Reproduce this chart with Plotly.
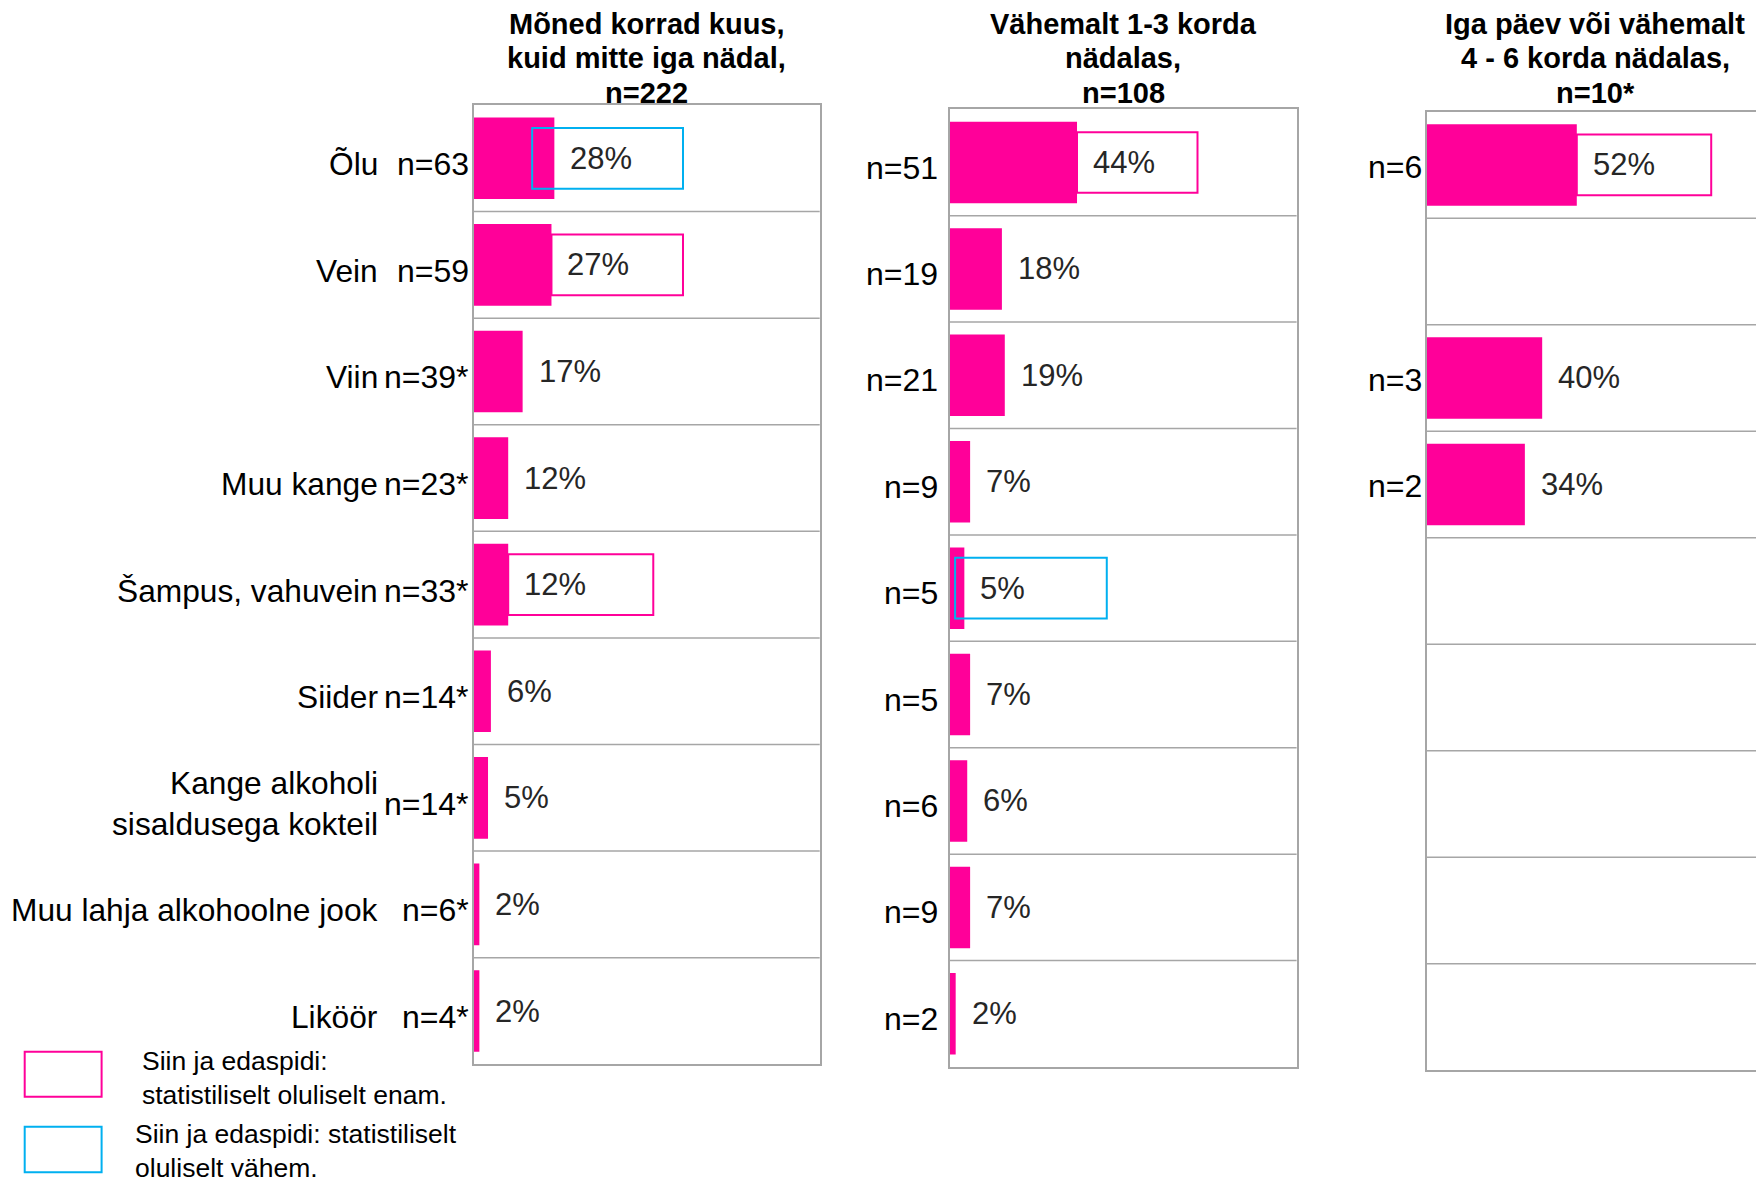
import plotly.graph_objects as go

# rows, top to bottom
categories = ["Õlu", "Vein", "Viin", "Muu kange", "Šampus, vahuvein", "Siider",
              "Kange alkoholi<br>sisaldusega kokteil", "Muu lahja alkohoolne jook", "Liköör"]

titles = ["Mõned korrad kuus,<br>kuid mitte iga nädal,<br>n=222",
          "Vähemalt 1-3 korda<br>nädalas,<br>n=108",
          "Iga päev või vähemalt<br>4 - 6 korda nädalas,<br>n=10*"]

n_monthly = ["n=63", "n=59", "n=39*", "n=23*", "n=33*", "n=14*", "n=14*", "n=6*", "n=4*"]
pct_monthly = [28, 27, 17, 12, 12, 6, 5, 2, 2]

n_weekly = ["n=51", "n=19", "n=21", "n=9", "n=5", "n=5", "n=6", "n=9", "n=2"]
pct_weekly = [44, 18, 19, 7, 5, 7, 6, 7, 2]

n_daily = ["n=6", "", "n=3", "n=2", "", "", "", "", ""]
pct_daily = [52, None, 40, 34, None, None, None, None, None]

# significance marks: (panel, row, "more"/"less")
significance = [(0, "Õlu", "less"), (0, "Vein", "more"), (0, "Šampus, vahuvein", "more"),
                (1, "Õlu", "more"), (1, "Šampus, vahuvein", "less"),
                (2, "Õlu", "more")]

legend_more = "Siin ja edaspidi:<br>statistiliselt oluliselt enam."
legend_less = "Siin ja edaspidi: statistiliselt<br>oluliselt vähem."

# ---- styling / layout constants ----
OFF = 8  # page body margin
W, H = 1764 - OFF, 1181 - OFF
PINK = "#FF0099"
BLUE = "#00B0F0"
GRID = "#A6A6A6"
FONT = "Liberation Sans, Arial, sans-serif"

# panel boxes in screen pixels: (left, right, top, bottom)
panel_px = [(473.6, 819.7, 105.0, 1064.3),
            (949.9, 1296.6, 109.3, 1067.0),
            (1426.8, 1764.0, 111.7, 1070.3)]
x_ranges = [120, 120, 116.9]
n_shift = [-3, -10, -3]
n_yshift = [-6, -5, -2]
title_lines_y = [23.6, 58.5, 93.4]
# x-extent of the significance frames (in % units)
box_span = {(0, "Õlu"): (20.3, 72.6), (0, "Vein"): (27, 72.6),
            (0, "Šampus, vahuvein"): (12, 62.3), (1, "Õlu"): (44, 85.7),
            (1, "Šampus, vahuvein"): (1.8, 54.3), (2, "Õlu"): (52, 98.6)}


def px_x(v):
    return min(1.0, (v - OFF) / W)


def px_y(v):
    return 1 - (v - OFF) / H


panels = [(n_monthly, pct_monthly), (n_weekly, pct_weekly), (n_daily, pct_daily)]

fig = go.Figure()
annotations = []
shapes = []

for i, (nlab, vals) in enumerate(panels):
    k = "" if i == 0 else str(i + 1)
    fig.add_trace(go.Bar(x=vals, y=categories, orientation="h", width=0.766,
                         marker=dict(color=PINK, line=dict(width=0)),
                         xaxis="x" + k, yaxis="y" + k,
                         hoverinfo="skip", showlegend=False))

    left, right, top, bottom = panel_px[i]
    fig.update_layout({
        "xaxis" + k: dict(domain=[px_x(left), px_x(right)], range=[0, x_ranges[i]],
                          anchor="y" + k, showline=True, mirror=True, linecolor=GRID,
                          linewidth=1.5, showgrid=False, zeroline=False,
                          showticklabels=False, ticks="", fixedrange=True),
        "yaxis" + k: dict(domain=[px_y(bottom), px_y(top)], anchor="x" + k,
                          type="category", categoryorder="array", categoryarray=categories,
                          range=[len(categories) - 0.5, -0.5],
                          showline=True, mirror=(i < 2), linecolor=GRID, linewidth=1.5,
                          showgrid=False, zeroline=False, showticklabels=False, ticks="",
                          fixedrange=True),
    })

    # row separators
    for r in range(len(categories) - 1):
        shapes.append(dict(type="line", xref="x" + k + " domain", yref="y" + k,
                           x0=0, x1=1, y0=r + 0.5, y1=r + 0.5,
                           line=dict(color=GRID, width=1.5)))

    # panel title, one annotation per line for tighter spacing
    for line, ly in zip(titles[i].split("<br>"), title_lines_y):
        annotations.append(dict(text="<b>" + line + "</b>", xref="x" + k + " domain",
                                yref="paper", x=0.5, y=px_y(ly), xanchor="center",
                                yanchor="middle", showarrow=False,
                                font=dict(size=29, color="black", family=FONT)))

    for cat, n, v in zip(categories, nlab, vals):
        if n:
            annotations.append(dict(text=n, xref="x" + k + " domain", yref="y" + k,
                                    x=0, y=cat, xanchor="right", xshift=n_shift[i],
                                    yshift=n_yshift[i], showarrow=False,
                                    font=dict(size=32, color="black", family=FONT)))
        if v is not None:
            annotations.append(dict(text=f"{v}%", xref="x" + k, yref="y" + k,
                                    x=v, y=cat, xanchor="left", xshift=14,
                                    showarrow=False,
                                    font=dict(size=31, color="#262626", family=FONT)))

# category names on the left
for cat in categories:
    annotations.append(dict(text=cat, xref="paper", yref="y", x=px_x(380), y=cat,
                            xanchor="right", align="right", yshift=-6, showarrow=False,
                            font=dict(size=31.7, color="black", family=FONT)))

# significance frames
for p, cat, kind in significance:
    k = "" if p == 0 else str(p + 1)
    row = categories.index(cat)
    x0, x1 = box_span[(p, cat)]
    shapes.append(dict(type="rect", xref="x" + k, yref="y" + k, x0=x0, x1=x1,
                       y0=row - 0.285, y1=row + 0.285, layer="above",
                       line=dict(color=PINK if kind == "more" else BLUE, width=2),
                       fillcolor="rgba(0,0,0,0)"))

# legend boxes and texts
for (y0, y1), col in [((1051.7, 1096.7), PINK), ((1126.7, 1172.3), BLUE)]:
    shapes.append(dict(type="rect", xref="paper", yref="paper",
                       x0=px_x(24.7), x1=px_x(101.6), y0=px_y(y1), y1=px_y(y0),
                       line=dict(color=col, width=2), fillcolor="rgba(0,0,0,0)"))

annotations.append(dict(text=legend_more, xref="paper", yref="paper", x=px_x(140),
                        y=px_y(1078), xanchor="left", yanchor="middle", align="left",
                        showarrow=False, font=dict(size=26.5, color="black", family=FONT)))
annotations.append(dict(text=legend_less, xref="paper", yref="paper", x=px_x(133),
                        y=px_y(1151), xanchor="left", yanchor="middle", align="left",
                        showarrow=False, font=dict(size=26.5, color="black", family=FONT)))

fig.update_layout(width=W, height=H, margin=dict(l=0, r=0, t=0, b=0),
                  paper_bgcolor="white", plot_bgcolor="white",
                  font=dict(family=FONT), barmode="overlay",
                  annotations=annotations, shapes=shapes)

fig.write_html("out.html")
